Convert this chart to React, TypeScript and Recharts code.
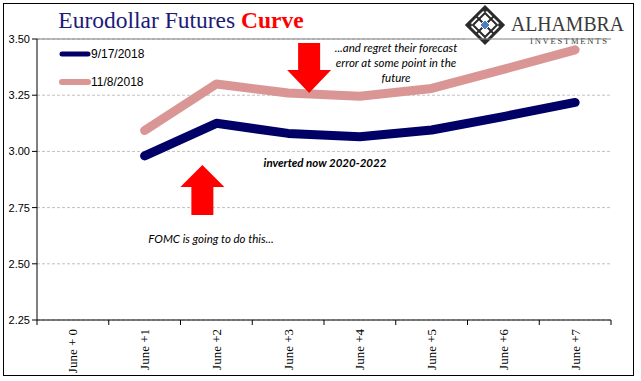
import React from 'react';
import { LineChart, Line, XAxis, YAxis, CartesianGrid, ReferenceLine, ReferenceDot, Customized } from 'recharts';

const categories = ['June + 0', 'June +1', 'June +2', 'June +3', 'June +4', 'June +5', 'June +6', 'June +7'];
const sep2018 = [null, 2.98, 3.125, 3.08, 3.065, 3.095, 3.155, 3.218];
const nov2018 = [null, 3.093, 3.3, 3.26, 3.245, 3.28, 3.365, 3.452];
const yTicks = [2.25, 2.5, 2.75, 3.0, 3.25, 3.5];
const seriesNames = ['9/17/2018', '11/8/2018'];

const data = categories.map((c, i) => ({ cat: c, s1: sep2018[i], s2: nov2018[i] }));

const NAVY = '#000066';
const PINK = '#d99694';
const RED = '#ff0000';

const XTick = (props: any) => {
  const { x, y, payload, index } = props;
  const off = payload.offset || 0;
  return (
    <g>
      <line x1={x - off} y1={y - 8} x2={x - off} y2={y - 3} stroke="#000" />
      {index === categories.length - 1 && (
        <line x1={x + off} y1={y - 8} x2={x + off} y2={y - 3} stroke="#000" />
      )}
      <text
        x={x}
        y={y + 1}
        transform={`rotate(-90 ${x} ${y + 1})`}
        textAnchor="end"
        dominantBaseline="central"
        fontFamily="Liberation Serif"
        fontSize={13}
        fill="#000"
      >
        {payload.value}
      </text>
    </g>
  );
};

const UpArrow = (props: any) => {
  const { cx, cy } = props;
  const x = cx - 14;
  return (
    <polygon
      points={`${x},${cy} ${x + 22},${cy + 22} ${x + 11},${cy + 22} ${x + 11},${cy + 50} ${x - 11},${cy + 50} ${x - 11},${cy + 22} ${x - 22},${cy + 22}`}
      fill={RED}
    />
  );
};

const DownArrow = (props: any) => {
  const { cx, cy } = props;
  const x = cx + 21;
  return (
    <polygon
      points={`${x},${cy} ${x + 22},${cy - 23} ${x + 11},${cy - 23} ${x + 11},${cy - 50} ${x - 11},${cy - 50} ${x - 11},${cy - 23} ${x - 22},${cy - 23}`}
      fill={RED}
    />
  );
};

const Decor = () => (
  <g>
    <rect x={3.5} y={3.5} width={630} height={372} fill="none" stroke="#000" strokeWidth={1} />
    <text x={181} y={28} textAnchor="middle" fontFamily="Liberation Serif" fontSize={23.5}>
      <tspan fill="#1c1a78">Eurodollar Futures </tspan>
      <tspan fill={RED} fontWeight="bold">Curve</tspan>
    </text>
    {/* legend */}
    <line x1={62} y1={54} x2={88} y2={54} stroke={NAVY} strokeWidth={5} strokeLinecap="round" />
    <text x={91} y={54} dominantBaseline="central" fontFamily="Liberation Sans" fontSize={12} fill="#000">{seriesNames[0]}</text>
    <line x1={62} y1={82} x2={88} y2={82} stroke={PINK} strokeWidth={6} strokeLinecap="round" />
    <text x={91} y={82} dominantBaseline="central" fontFamily="Liberation Sans" fontSize={12} fill="#000">{seriesNames[1]}</text>
    {/* logo */}
    <rect x={465} y={4} width={168} height={40} fill="#fff" />
    <g transform="translate(485 25)">
      <polygon points="0,-18 18,0 0,18 -18,0" fill="none" stroke="#2b2b2b" strokeWidth={3} />
      <polygon points="0,-12 12,0 0,12 -12,0" fill="none" stroke="#2b2b2b" strokeWidth={2} />
      <line x1={-9} y1={-9} x2={9} y2={9} stroke="#2b2b2b" strokeWidth={2} />
      <line x1={-9} y1={9} x2={9} y2={-9} stroke="#2b2b2b" strokeWidth={2} />
      <circle cx={0} cy={-15} r={2} fill="#2b2b2b" />
      <circle cx={0} cy={15} r={2} fill="#2b2b2b" />
      <circle cx={-15} cy={0} r={2} fill="#2b2b2b" />
      <circle cx={15} cy={0} r={2} fill="#2b2b2b" />
      <polygon points="0,-5 5,0 0,5 -5,0" fill="#4a7ec0" stroke="#fff" strokeWidth={1} />
    </g>
    <text x={511} y={31} fontFamily="Liberation Serif" fontSize={20} fill="#3a3a3a" textLength={113} lengthAdjust="spacingAndGlyphs">ALHAMBRA</text>
    <text x={530} y={43.5} fontFamily="Liberation Serif" fontSize={8.5} fill="#3a3a3a" textLength={77} lengthAdjust="spacing">INVESTMENTS</text>
    {/* annotations */}
    <g fontFamily="Lato" fontStyle="italic" fontSize={11.5} fill="#000" textAnchor="middle">
      <text x={396} y={47} dominantBaseline="central">...and regret their forecast</text>
      <text x={396} y={62.5} dominantBaseline="central">error at some point in the</text>
      <text x={396} y={77.5} dominantBaseline="central">future</text>
      <text x={211} y={238} dominantBaseline="central">FOMC is going to do this...</text>
      <text x={325} y={162.5} dominantBaseline="central" fontWeight="bold">inverted now 2020-2022</text>
    </g>
  </g>
);

export default function App() {
  return (
    <div style={{ position: 'absolute', left: 0, top: 0, width: 641, height: 381, background: '#fff' }}>
      <LineChart width={641} height={381} data={data} margin={{ top: 39, right: 30, bottom: 0, left: 3 }}>
        <CartesianGrid horizontal vertical={false} stroke="#c0c0c0" strokeDasharray="3 2" />
        <ReferenceLine y={3.5} stroke="#808080" />
        <XAxis
          dataKey="cat"
          scale="band"
          height={61}
          axisLine={{ stroke: '#000' }}
          tickLine={false}
          tick={<XTick />}
          interval={0}
        />
        <YAxis
          domain={[2.25, 3.5]}
          ticks={yTicks}
          width={34}
          axisLine={{ stroke: '#000' }}
          tickLine={{ stroke: '#000' }}
          tickSize={5}
          tickFormatter={(v: number) => v.toFixed(2)}
          tick={{ fontFamily: 'Liberation Sans', fontSize: 11, fill: '#000' }}
          allowDataOverflow
        />
        <YAxis yAxisId="r" orientation="right" width={0} tick={false} tickLine={false} axisLine={{ stroke: '#808080' }} domain={[2.25, 3.5]} />
        <Line dataKey="s2" name={seriesNames[1]} stroke={PINK} strokeWidth={9} dot={false} strokeLinecap="round" strokeLinejoin="round" isAnimationActive={false} />
        <Line dataKey="s1" name={seriesNames[0]} stroke={NAVY} strokeWidth={9} dot={false} strokeLinecap="round" strokeLinejoin="round" isAnimationActive={false} />
        <ReferenceDot x={categories[2]} y={2.94} r={0} shape={<UpArrow />} ifOverflow="visible" />
        <ReferenceDot x={categories[3]} y={3.26} r={0} shape={<DownArrow />} ifOverflow="visible" />
        <Customized component={Decor} />
      </LineChart>
    </div>
  );
}
